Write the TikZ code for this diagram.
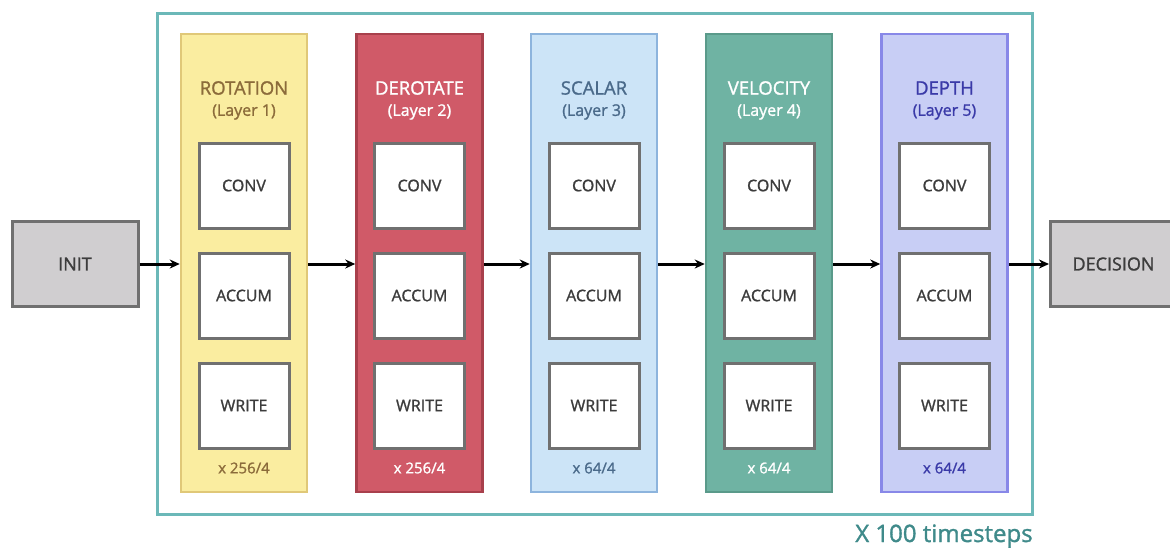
\documentclass[tikz,border=0pt]{standalone}
\usepackage{fontspec}
\setmainfont{Open Sans}
\newfontfamily\semib{Open Sans}[FakeBold=1.3]
\usetikzlibrary{arrows.meta}
\definecolor{frame}{HTML}{6BB8B8}
\definecolor{frametext}{HTML}{3F8A8A}
\definecolor{boxgray}{HTML}{707070}
\definecolor{boxfill}{HTML}{D0CED0}
\definecolor{boxtext}{HTML}{3C3C3C}
\definecolor{fA}{HTML}{FAEDA0}\definecolor{dA}{HTML}{E0C878}\definecolor{tA}{HTML}{8B6B3A}
\definecolor{fB}{HTML}{D05A68}\definecolor{dB}{HTML}{A8404C}\definecolor{tB}{HTML}{FFFFFF}
\definecolor{fC}{HTML}{CCE4F7}\definecolor{dC}{HTML}{8DB4DD}\definecolor{tC}{HTML}{4A6A8A}
\definecolor{fD}{HTML}{6FB3A3}\definecolor{dD}{HTML}{5A9A8A}\definecolor{tD}{HTML}{FFFFFF}
\definecolor{fE}{HTML}{C8CEF5}\definecolor{dE}{HTML}{8888E8}\definecolor{tE}{HTML}{3A3AA8}
\tikzset{
  layerbox/.style={draw, line width=2.5pt, minimum width=126pt, minimum height=458pt, inner sep=0pt},
  innerbox/.style={draw=boxgray, fill=white, line width=3pt, minimum width=90pt, minimum height=85pt, inner sep=0pt, text=boxtext, font=\semib\fontsize{16}{19}\selectfont},
  endbox/.style={draw=boxgray, fill=boxfill, line width=3pt, minimum width=126pt, minimum height=85pt, inner sep=0pt, text=boxtext, font=\semib\fontsize{18}{21}\selectfont},
  title/.style={font=\semib\fontsize{18.5}{21}\selectfont, inner sep=0pt},
  sub/.style={font=\semib\fontsize{16}{19}\selectfont, inner sep=0pt},
  rep/.style={font=\semib\fontsize{15}{18}\selectfont, inner sep=0pt},
  flow/.style={-{Stealth[length=10pt,width=9pt]}, line width=3pt, black}
}
\begin{document}
\begin{tikzpicture}[x=1pt,y=-1pt]
\useasboundingbox (0,0) rectangle (1170,549);
\draw[frame, line width=3pt] (157,13) rectangle (1032,514);
\node[frametext, font=\semib\fontsize{24}{28}\selectfont, anchor=base] (ts) at (944,542) {X 100 timesteps};

\node[endbox] (init) at (75,264) {INIT};
\node[endbox, anchor=west] (dec) at (1049,264) {DECISION};

\foreach \i/\x/\name/\n/\r in {A/244/ROTATION/1/256,B/419.5/DEROTATE/2/256,C/594/SCALAR/3/64,D/769/VELOCITY/4/64,E/944.5/DEPTH/5/64}{
  \node[layerbox, draw=d\i, fill=f\i] (L\i) at (\x,263) {};
  \node[title, text=t\i] (T\i) at (\x,88) {\name};
  \node[sub, text=t\i] (S\i) at (\x,112) {(Layer \n)};
  \node[innerbox] (C\i) at (\x,185.5) {CONV};
  \node[innerbox] (A\i) at (\x,295.5) {ACCUM};
  \node[innerbox] (W\i) at (\x,405.5) {WRITE};
  \node[rep, text=t\i] (R\i) at (\x,468) {x \r/4};
}
\draw[flow] (init.east) -- (LA.west |- init.east);
\draw[flow] (LA.east |- init.east) -- (LB.west |- init.east);
\draw[flow] (LB.east |- init.east) -- (LC.west |- init.east);
\draw[flow] (LC.east |- init.east) -- (LD.west |- init.east);
\draw[flow] (LD.east |- init.east) -- (LE.west |- init.east);
\draw[flow] (LE.east |- init.east) -- (dec.west);
\end{tikzpicture}
\end{document}
